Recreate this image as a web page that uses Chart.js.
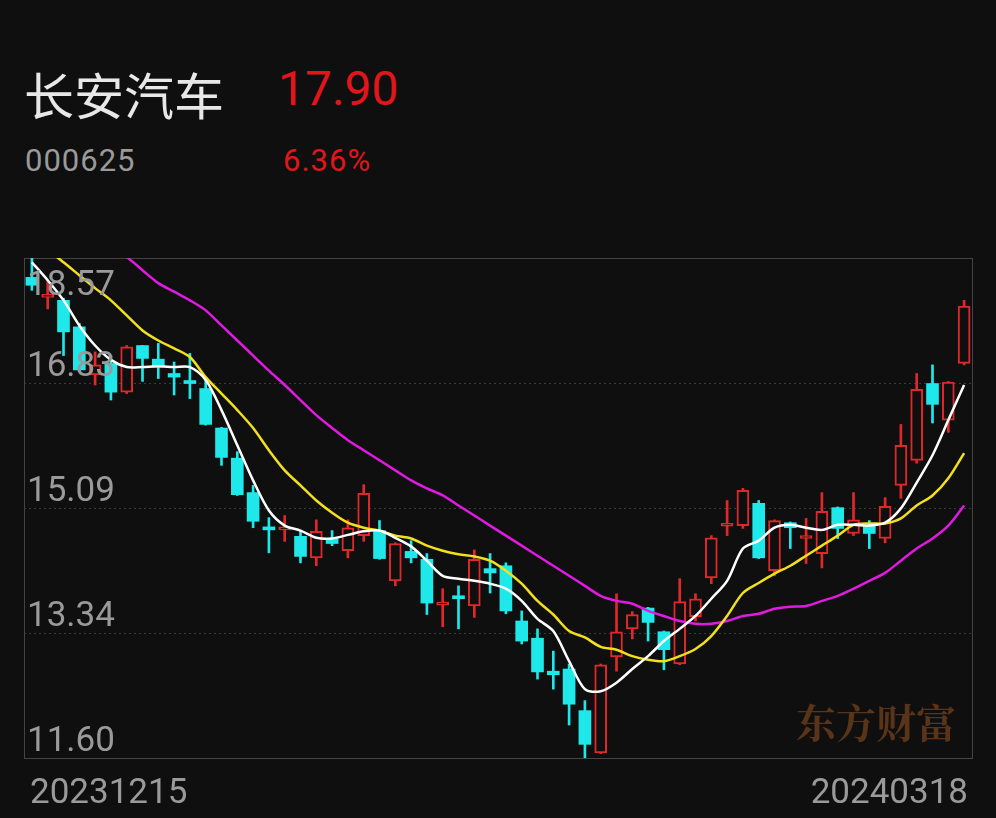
<!DOCTYPE html>
<html>
<head>
<meta charset="utf-8">
<script src="https://cdn.jsdelivr.net/npm/chart.js@4"></script>
<style>
  body { margin: 0; background: #0f0f0f; width: 996px; height: 818px; overflow: hidden; font-family: Roboto, "Noto Sans CJK SC", sans-serif; }
  #wrap { position: absolute; left: 0; top: 0; width: 996px; height: 818px; }
  .t { position: absolute; white-space: nowrap; }
</style>
</head>
<body>
<div class="t" style="left:24px;top:57px;font-size:50px;color:#e8e8e8;font-family:'Noto Sans CJK SC';">长安汽车</div>
<div class="t" style="left:278px;top:60px;font-size:48px;color:#e0161b;">17.90</div>
<div class="t" style="left:25px;top:142px;font-size:31px;color:#9a9a9a;letter-spacing:1px;">000625</div>
<div class="t" style="left:283px;top:142px;font-size:31px;color:#e0161b;letter-spacing:1px;">6.36%</div>
<div id="wrap"><canvas id="c" width="996" height="818"></canvas></div>
<script>
// --------------------
// Data
// --------------------
const dates = [
  "20231215","20231218","20231219","20231220","20231221","20231222","20231225","20231226","20231227","20231228","20231229",
  "20240102","20240103","20240104","20240105","20240108","20240109","20240110","20240111","20240112","20240115","20240116",
  "20240117","20240118","20240119","20240122","20240123","20240124","20240125","20240126","20240129","20240130","20240131",
  "20240201","20240202","20240205","20240206","20240207","20240208","20240219","20240220","20240221","20240222","20240223",
  "20240226","20240227","20240228","20240229","20240301","20240304","20240305","20240306","20240307","20240308","20240311",
  "20240312","20240313","20240314","20240315","20240318"
];
const opens  = [18.30,18.02,17.98,17.61,16.94,17.10,16.70,17.35,17.16,16.96,16.85,16.75,16.20,15.78,15.30,14.81,14.78,14.69,14.39,14.66,14.49,14.70,14.77,14.07,14.48,14.37,13.73,13.85,13.72,14.24,14.28,13.51,13.27,12.81,12.84,12.26,11.67,13.01,13.40,13.69,13.36,12.91,13.57,14.11,14.83,14.84,15.15,14.21,14.88,14.66,14.45,15.09,14.73,14.84,14.66,15.40,15.75,16.82,16.31,17.10];
const closes = [18.19,18.05,17.54,17.01,17.08,16.70,17.33,17.17,17.05,16.91,16.82,16.25,15.79,15.27,14.90,14.78,14.81,14.41,14.76,14.59,14.81,15.29,14.38,14.59,14.39,13.76,13.76,13.82,14.37,14.18,13.65,13.23,12.80,12.76,12.35,11.79,12.90,13.36,13.60,13.49,13.11,13.78,13.82,14.67,14.85,15.33,14.39,14.91,14.81,14.69,15.04,14.80,14.92,14.73,15.11,15.96,16.74,16.53,16.84,17.90];
const highs  = [18.57,18.26,18.01,17.66,17.26,17.21,17.35,17.35,17.38,17.12,17.24,16.87,16.21,15.87,15.40,14.95,14.98,14.76,14.92,14.77,14.92,15.41,14.91,14.60,14.63,14.45,13.96,14.00,14.50,14.45,14.32,13.65,13.40,13.09,12.91,12.40,12.91,13.89,13.64,13.70,13.37,14.10,13.89,14.70,15.19,15.36,15.19,14.92,14.89,14.94,15.30,15.10,15.30,14.91,15.23,16.25,16.96,17.08,16.85,17.98];
const lows   = [18.12,17.86,17.21,16.99,16.80,16.59,16.68,16.85,16.89,16.66,16.61,16.24,15.68,15.26,14.81,14.46,14.62,14.32,14.28,14.56,14.39,14.62,14.37,14.00,14.32,13.60,13.43,13.40,13.56,13.90,13.61,13.19,12.70,12.56,12.06,11.60,11.66,12.81,13.26,13.23,12.83,12.90,13.51,14.03,14.70,14.80,14.38,14.14,14.52,14.31,14.25,14.66,14.70,14.52,14.60,15.22,15.71,16.27,16.14,17.08];
const ma5  = [18.51,18.26,17.98,17.63,17.35,17.15,17.05,17.05,17.06,17.05,17.05,16.87,16.45,15.96,15.47,15.05,14.84,14.77,14.67,14.66,14.71,14.76,14.77,14.67,14.55,14.35,14.14,14.10,14.07,14.03,13.96,13.79,13.54,13.37,12.95,12.56,12.53,12.65,12.84,13.02,13.23,13.40,13.58,13.82,14.07,14.52,14.63,14.81,14.85,14.81,14.78,14.85,14.85,14.84,14.88,15.08,15.44,15.82,16.31,16.80];
const ma10 = [18.82,18.68,18.51,18.33,18.15,17.98,17.77,17.56,17.42,17.31,17.19,16.91,16.68,16.45,16.20,15.89,15.61,15.40,15.19,15.02,14.88,14.81,14.77,14.70,14.66,14.56,14.49,14.44,14.41,14.35,14.21,14.03,13.79,13.60,13.37,13.28,13.15,13.11,13.02,12.97,12.95,13.02,13.12,13.30,13.58,13.90,14.04,14.17,14.28,14.42,14.56,14.70,14.85,14.87,14.87,14.94,15.12,15.26,15.50,15.85];
const ma20 = [19.52,19.31,19.10,18.96,18.82,18.68,18.58,18.40,18.22,18.10,17.98,17.84,17.63,17.42,17.21,17.00,16.80,16.59,16.38,16.20,16.03,15.89,15.75,15.61,15.47,15.36,15.26,15.12,14.98,14.84,14.70,14.56,14.42,14.28,14.14,14.00,13.86,13.79,13.75,13.65,13.58,13.51,13.47,13.47,13.51,13.58,13.61,13.68,13.71,13.72,13.79,13.86,13.96,14.07,14.18,14.35,14.52,14.66,14.84,15.12];
const yTicks = [18.57, 16.83, 15.09, 13.34, 11.60];

// --------------------
// Colors
// --------------------
const BG = '#0f0f0f';
const UP = '#e0282b';
const DOWN = '#1ee8ea';
const isUp = opens.map((o, i) => closes[i] >= o);

const bodies = opens.map((o, i) => [o, closes[i]]);
const wicks = lows.map((l, i) => [l, highs[i]]);

// frame, grid, labels, watermark
const framePlugin = {
  id: 'frame',
  beforeDatasetsDraw(chart) {
    const { ctx, chartArea: a, scales: { y } } = chart;
    ctx.save();
    ctx.strokeStyle = '#3a3a3a';
    ctx.lineWidth = 1;
    ctx.setLineDash([2, 3]);
    yTicks.slice(1, 4).forEach(v => {
      const py = Math.round(y.getPixelForValue(v)) + 0.5;
      ctx.beginPath(); ctx.moveTo(a.left, py); ctx.lineTo(a.right, py); ctx.stroke();
    });
    ctx.setLineDash([]);
    ctx.strokeStyle = '#444';
    ctx.strokeRect(a.left + 0.5, a.top + 0.5, a.right - a.left, a.bottom - a.top);
    // watermark
    ctx.font = 'bold 40px "Noto Serif CJK SC", "Noto Sans CJK SC", serif';
    ctx.fillStyle = '#5a3418';
    ctx.textAlign = 'right';
    ctx.textBaseline = 'alphabetic';
    ctx.fillText('东方财富', 956, 738);
    ctx.restore();
  },
  afterDraw(chart) {
    const { ctx, chartArea: a, scales: { y } } = chart;
    ctx.save();
    ctx.font = '35px Roboto';
    ctx.fillStyle = '#9a9a9a';
    ctx.textAlign = 'left';
    ctx.textBaseline = 'bottom';
    yTicks.forEach(v => {
      let py = y.getPixelForValue(v);
      if (v === yTicks[0]) py += 44;
      ctx.fillText(v.toFixed(2), a.left + 3, py + 2);
    });
    ctx.textBaseline = 'alphabetic';
    ctx.fillText(dates[0], 30, 803);
    ctx.textAlign = 'right';
    ctx.fillText(dates[dates.length - 1], 968, 803);
    ctx.restore();
  }
};

function maLine(data, color) {
  return {
    type: 'line', data, borderColor: color, borderWidth: 2.5,
    pointRadius: 0, tension: 0.3, fill: false, order: 0
  };
}

new Chart(document.getElementById('c'), {
  data: {
    labels: dates,
    datasets: [
      {
        type: 'bar', data: wicks, grouped: false, order: 3,
        backgroundColor: isUp.map(u => u ? UP : DOWN),
        barThickness: 2
      },
      {
        type: 'bar', data: bodies, grouped: false, order: 2,
        backgroundColor: isUp.map(u => u ? BG : DOWN),
        borderColor: isUp.map(u => u ? UP : DOWN),
        borderWidth: isUp.map(u => u ? 2 : 0),
        borderSkipped: false,
        minBarLength: 3,
        barThickness: 12
      },
      maLine(ma5, '#ffffff'),
      maLine(ma10, '#f2e01c'),
      maLine(ma20, '#e01ae0')
    ]
  },
  options: {
    responsive: false,
    animation: false,
    layout: { padding: { left: 24, right: 24, top: 258, bottom: 60 } },
    plugins: { legend: { display: false }, tooltip: { enabled: false } },
    scales: {
      x: { display: false, offset: true },
      y: { display: false, min: 11.60, max: 18.57 }
    }
  },
  plugins: [framePlugin]
});
</script>
</body>
</html>
